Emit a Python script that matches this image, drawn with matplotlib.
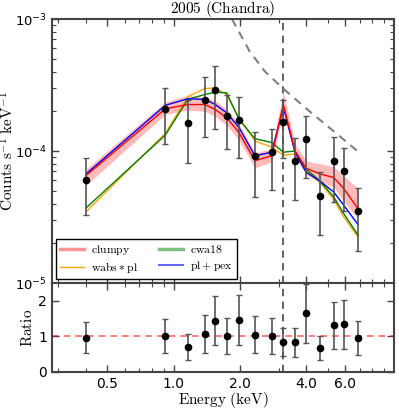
import matplotlib
matplotlib.use('Agg')
from matplotlib import pyplot as plt
from matplotlib.ticker import FixedLocator, FixedFormatter, LogLocator, NullFormatter
import numpy as np

# energias de los bines (keV)
energia = [0.40, 0.917, 1.16, 1.385, 1.54, 1.74, 1.98, 2.34, 2.79, 3.15,
           3.56, 4.0, 4.63, 5.33, 5.92, 6.87]
cuentas = [6.05e-5, 2.07e-4, 1.63e-4, 2.45e-4, 2.92e-4, 1.84e-4, 1.73e-4, 9.2e-5,
           9.9e-5, 1.66e-4, 8.45e-5, 1.23e-4, 4.6e-5, 8.4e-5, 7.0e-5, 3.5e-5]
err_cuentas = [2.75e-5, 9.4e-5, 8.2e-5, 1.18e-4, 1.45e-4, 8.0e-5, 8.4e-5, 4.7e-5,
               4.8e-5, 7.7e-5, 4.2e-5, 6.0e-5, 2.3e-5, 4.3e-5, 3.5e-5, 1.75e-5]

clumpy = [6.52e-5, 2.09e-4, 2.25e-4, 2.25e-4, 2.07e-4, 1.79e-4, 1.38e-4, 8.45e-5,
          9.2e-5, 2.25e-4, 1.0e-4, 7.4e-5, 6.7e-5, 6.3e-5, 5.2e-5, 3.66e-5]
clumpy_lo = [5.5e-5, 1.9e-4, 2.04e-4, 2.0e-4, 1.83e-4, 1.57e-4, 1.21e-4, 7.45e-5,
             8.3e-5, 2.0e-4, 9.0e-5, 6.6e-5, 5.85e-5, 5.35e-5, 4.14e-5, 3.08e-5]
clumpy_hi = [7.3e-5, 2.35e-4, 2.64e-4, 2.55e-4, 2.42e-4, 2.07e-4, 1.6e-4, 9.7e-5,
             1.04e-4, 2.82e-4, 1.13e-4, 8.4e-5, 8.0e-5, 7.6e-5, 6.5e-5, 5.2e-5]
wabs_pl = [3.46e-5, 1.36e-4, 2.58e-4, 2.97e-4, 3.01e-4, 2.68e-4, 1.79e-4, 1.19e-4,
           1.07e-4, 9.3e-5, 9.5e-5, 7.1e-5, 5.75e-5, 4.3e-5, 3.17e-5, 2.24e-5]
cwa18 = [3.7e-5, 1.32e-4, 2.46e-4, 2.68e-4, 2.79e-4, 2.76e-4, 1.74e-4, 1.24e-4,
         1.16e-4, 9.8e-5, 1.0e-4, 7.3e-5, 5.9e-5, 4.5e-5, 3.36e-5, 2.31e-5]
pl_pex = [6.7e-5, 2.22e-4, 2.49e-4, 2.46e-4, 2.26e-4, 1.95e-4, 1.51e-4, 9.2e-5,
          9.8e-5, 2.15e-4, 9.8e-5, 6.9e-5, 5.9e-5, 4.9e-5, 3.89e-5, 2.78e-5]

ratio = [0.966, 1.01, 0.71, 1.07, 1.44, 1.01, 1.46, 1.05, 1.01, 0.85, 0.83,
         1.65, 0.67, 1.31, 1.34, 0.95]
err_ratio = [0.43, 0.47, 0.36, 0.53, 0.69, 0.5, 0.71, 0.52, 0.5, 0.39, 0.4,
             0.83, 0.33, 0.65, 0.68, 0.47]

# curva gris discontinua
curva_e = [1.84, 2.22, 2.60, 3.14, 4.04, 5.54, 6.98]
curva_y = [1.0e-3, 5.65e-4, 4.0e-4, 2.98e-4, 2.07e-4, 1.34e-4, 9.7e-5]

linea_e = 3.15

fig = plt.figure(figsize=(3.99, 4.09), dpi=100)
ax = fig.add_axes([0.130, 0.308, 0.857, 0.6455])
ax2 = fig.add_axes([0.130, 0.0905, 0.857, 0.2175], sharex=ax)

gris = '#555555'
for a in (ax, ax2):
    for s in a.spines.values():
        s.set_color('#444444')
        s.set_linewidth(1.5)
    a.tick_params(which='both', direction='in', top=True, right=True, color='#444444')
    a.tick_params(which='major', length=5, width=1)
    a.tick_params(which='minor', length=3, width=0.8)
    a.axvline(linea_e, color=gris, ls='--', lw=1.3, dashes=(4, 3))

ax.fill_between(energia, clumpy_lo, clumpy_hi, color='#ff7777', alpha=0.5, lw=0)
ax.plot(energia, wabs_pl, color='orange', lw=1)
ax.plot(energia, cwa18, color='green', lw=1)
ax.plot(energia, pl_pex, color='blue', lw=1)
ax.plot(energia, clumpy, color='red', lw=1)
ax.plot(curva_e, curva_y, color='gray', ls='--', lw=1.5, dashes=(4, 3))
ax.errorbar(energia, cuentas, yerr=err_cuentas, fmt='o', color='black', ms=4.5,
            ecolor=gris, elinewidth=1.2, capsize=2.5, capthick=1)

ax.set_xscale('log')
ax.set_yscale('log')
ax.set_xlim(0.28, 10)
ax.set_ylim(1e-5, 1e-3)
ax.yaxis.set_major_locator(FixedLocator([1e-5, 1e-4, 1e-3]))
ax.yaxis.set_major_formatter(FixedFormatter([r'$10^{-5}$', r'$10^{-4}$', r'$10^{-3}$']))
ax.yaxis.set_minor_locator(LogLocator(base=10, subs=np.arange(2, 10)))
ax.yaxis.set_minor_formatter(NullFormatter())
for t in ax.get_yticklabels():
    t.set_fontsize(9.5)
    t.set_math_fontfamily('dejavusans')
plt.setp(ax.get_xticklabels(), visible=False)
ax.set_ylabel(r'$\mathrm{Counts\ s^{-1}\ keV^{-1}}$', fontsize=11, math_fontfamily='cm')
ax.yaxis.set_label_coords(-0.102, 0.5)
ax.set_title(r'$\mathrm{2005\ (Chandra)}$', fontsize=11, math_fontfamily='cm', pad=3)

h1, = ax.plot([], [], color='#ff6666', alpha=0.7, lw=2.5)
h2, = ax.plot([], [], color='orange', lw=1)
h3, = ax.plot([], [], color='green', alpha=0.5, lw=2.5)
h4, = ax.plot([], [], color='blue', alpha=0.6, lw=1.5)
etiquetas = [r'$\mathrm{clumpy}$', r'$\mathrm{wabs}*\mathrm{pl}$', r'$\mathrm{cwa18}$', r'$\mathrm{pl+pex}$']
leg = ax.legend([h1, h2, h3, h4], etiquetas, loc='lower left', ncol=2, fancybox=False,
                edgecolor='black', borderaxespad=0.35, handlelength=2.0, handletextpad=0.6,
                columnspacing=1.8, labelspacing=0.25, borderpad=0.35, framealpha=1,
                prop={'math_fontfamily': 'cm', 'size': 8.5})
leg.get_frame().set_linewidth(1)

ax2.axhline(1, color='red', alpha=0.6, ls='--', lw=1.2, dashes=(4, 3))
ax2.errorbar(energia, ratio, yerr=err_ratio, fmt='o', color='black', ms=4.5,
             ecolor=gris, elinewidth=1.2, capsize=2.5, capthick=1)
ax2.set_ylim(0, 2.5)
ax2.set_yticks([0, 1, 2])
ax2.set_xticks([0.5, 1, 2, 4, 6])
ax2.xaxis.set_major_formatter(FixedFormatter(['0.5', '1.0', '2.0', '4.0', '6.0']))
ax2.xaxis.set_minor_locator(LogLocator(base=10, subs=np.arange(2, 10)))
ax2.xaxis.set_minor_formatter(NullFormatter())
ax2.tick_params(labelsize=10)
ax2.set_ylabel(r'$\mathrm{Ratio}$', fontsize=11, math_fontfamily='cm')
ax2.yaxis.set_label_coords(-0.048, 0.5)
ax2.set_xlabel(r'$\mathrm{Energy\ (keV)}$', fontsize=11, math_fontfamily='cm')
ax2.xaxis.set_label_coords(0.5, -0.2)

fig.savefig('out.png', dpi=100)
